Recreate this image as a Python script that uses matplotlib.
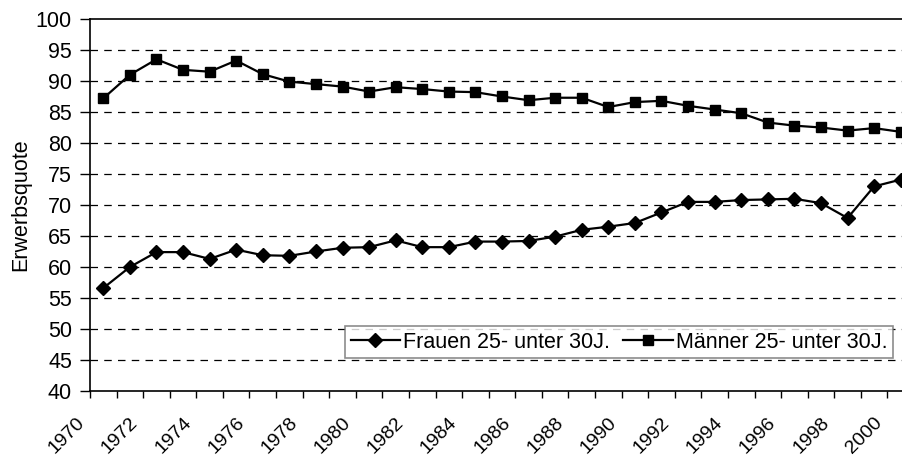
import numpy as np
import matplotlib.pyplot as plt
from matplotlib.ticker import FixedLocator
from matplotlib.transforms import ScaledTranslation

plt.rcParams['font.family'] = ['Liberation Sans', 'DejaVu Sans']

years = list(range(1970, 2001))
frauen = [56.6, 60.0, 62.4, 62.4, 61.3, 62.8, 61.9, 61.8, 62.5, 63.1,
          63.2, 64.3, 63.2, 63.2, 64.1, 64.1, 64.2, 64.9, 66.0, 66.5,
          67.1, 68.8, 70.5, 70.5, 70.8, 70.9, 71.0, 70.3, 67.9, 73.0, 74.1]
maenner = [87.2, 91.0, 93.5, 91.8, 91.5, 93.3, 91.1, 89.9, 89.5, 89.1,
           88.3, 89.0, 88.7, 88.3, 88.2, 87.5, 86.9, 87.3, 87.3, 85.8,
           86.6, 86.8, 86.0, 85.4, 84.8, 83.3, 82.8, 82.5, 82.0, 82.4, 81.8]
label_years = list(range(1970, 2001, 2))

fs = 15.5

fig = plt.figure(figsize=(9.03, 4.57), dpi=100)
ax = fig.add_axes([90 / 903, 1 - 391 / 457, 824 / 903, 372 / 457])

ax.plot(years, frauen, color='black', lw=1.6, marker='D', ms=7,
        label='Frauen 25- unter 30J.')
ax.plot(years, maenner, color='black', lw=1.6, marker='s', ms=7.5,
        label='Männer 25- unter 30J.')

ax.set_xlim(1969.5, 2000.5)
ax.set_ylim(40, 100)
ax.set_yticks(np.arange(40, 101, 5))
ax.set_xticks(label_years)
ax.xaxis.set_minor_locator(FixedLocator([y - 0.5 for y in years] + [2000.5]))
ax.tick_params(axis='x', which='major', length=0, pad=16.5, labelsize=14)
ax.tick_params(axis='x', which='minor', length=5, width=1, direction='out')
ax.tick_params(axis='y', length=7, width=1, labelsize=fs, pad=6)
ax.set_xticklabels([str(y) for y in label_years], rotation=45, ha='right',
                   va='top', rotation_mode='anchor')
# labels end left of the category centre, like the spreadsheet
shift = ScaledTranslation(-27 / 100, 0, fig.dpi_scale_trans)
for lab in ax.get_xticklabels():
    lab.set_transform(lab.get_transform() + shift)

for v in range(45, 100, 5):
    ax.axhline(v, color='black', lw=0.9, ls=(0, (6, 5)), zorder=0)

for s in ['left', 'bottom', 'top']:
    ax.spines[s].set_linewidth(1.2)
ax.spines['right'].set_visible(False)

ax.set_ylabel('Erwerbsquote', fontsize=fs, labelpad=3)

leg = ax.legend(loc='lower right', bbox_to_anchor=(893 / 903, 1 - 358 / 457),
                bbox_transform=fig.transFigure, ncol=2, fontsize=fs,
                frameon=True, fancybox=False, edgecolor='#707070',
                handlelength=2.3, handletextpad=0.15, columnspacing=0.6,
                borderaxespad=0, borderpad=0.25)
leg.get_frame().set_linewidth(1.2)

fig.savefig('out.png', dpi=100)
